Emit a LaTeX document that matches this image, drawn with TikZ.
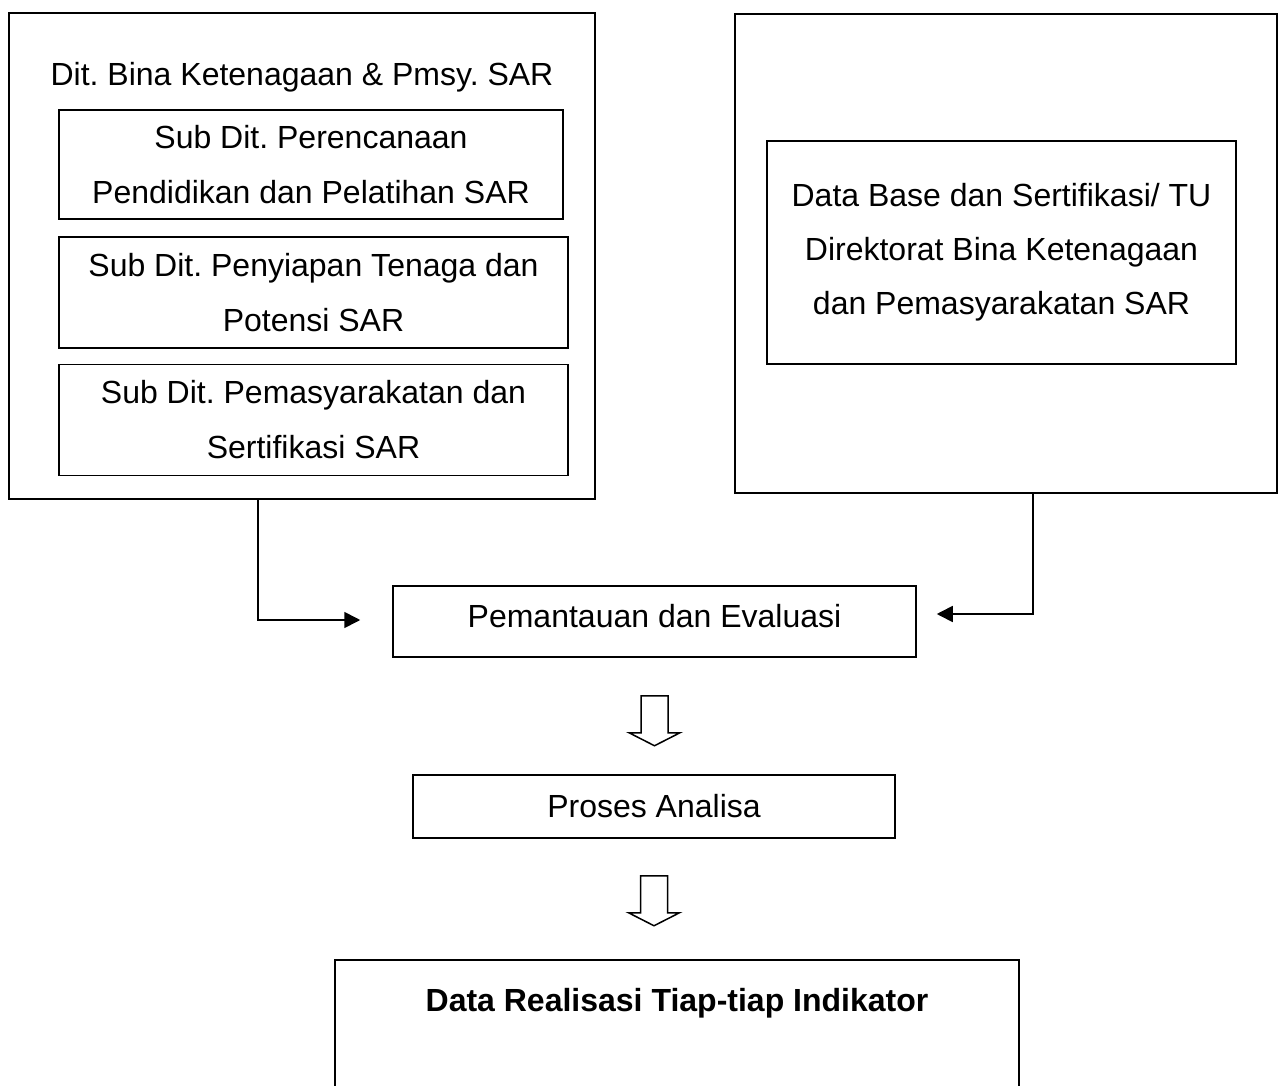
\documentclass[tikz,border=0pt]{standalone}
\usepackage{fontspec}
\setmainfont{Liberation Sans}
\usetikzlibrary{arrows.meta,calc}
\frenchspacing
\tikzset{
  box/.style={draw, line width=1.5pt, rectangle, inner sep=0pt, align=center,
    font=\fontsize{32}{55}\selectfont\frenchspacing},
  txt/.style={inner sep=0pt, align=center, font=\fontsize{32}{55}\selectfont\frenchspacing},
  conn/.style={line width=1.6pt, -{Triangle[length=16pt,width=16pt]}},
  hollowdown/.pic={
    \draw[line width=1.5pt, line join=miter]
      (-13.5,0) -- (-13.5,37) -- (-25.5,37) -- (0,50) -- (25.5,37) -- (13.5,37) -- (13.5,0) -- cycle;
  }
}
\begin{document}
\begin{tikzpicture}[x=1pt,y=-1pt]
\useasboundingbox[fill=white] (0,0) rectangle (1283,1086);
\clip (0,0) rectangle (1283,1086);

% left group
\node[box, minimum width=586pt, minimum height=486pt] (outerL) at (302,256) {};
\node[txt] (title) at (302,77) {Dit. Bina Ketenagaan \& Pmsy. SAR};
\node[box, minimum width=504pt, minimum height=109pt] (sub1) at (311,164.5)
  {Sub Dit. Perencanaan\\Pendidikan dan Pelatihan SAR};
\node[box, minimum width=509pt, minimum height=111pt] (sub2) at (313.5,292.5)
  {Sub Dit. Penyiapan Tenaga dan\\Potensi SAR};
\node[box, minimum width=509pt, minimum height=111pt] (sub3) at (313.5,420)
  {Sub Dit. Pemasyarakatan dan\\Sertifikasi SAR};

% right group
\node[box, minimum width=542pt, minimum height=479pt] (outerR) at (1006,253.5) {};
\node[box, minimum width=469pt, minimum height=223pt, font=\fontsize{32}{54}\selectfont\frenchspacing] (dbox) at (1001.5,252.5)
  {Data Base dan Sertifikasi/ TU\\Direktorat Bina Ketenagaan\\dan Pemasyarakatan SAR};

% process
\node[box, minimum width=523pt, minimum height=71pt] (pem) at (654.5,621.5) {\raisebox{12pt}{Pemantauan dan Evaluasi}};
\node[box, minimum width=482pt, minimum height=63pt] (proses) at (654,806.5) {Proses Analisa};
\node[box, anchor=north, minimum width=684pt, minimum height=200pt] (databox) at (677,959) {};
\node[txt] (data) at ($(databox.north)+(0,44)$) {\textbf{Data Realisasi Tiap-tiap Indikator}};

% connectors
\coordinate (lend) at ($(pem.west)+(-32,-1.5)$);
\coordinate (rend) at ($(pem.east)+(20,-7.5)$);
\draw[conn] ($(outerL.south west)+(250,0)$) |- (lend);
\draw[conn] ($(outerR.south west)+(299,0)$) |- (rend);

% hollow arrows
\pic at ($(pem.south)+(0,38)$) {hollowdown};
\pic at ($(proses.south)+(0,37)$) {hollowdown};
\end{tikzpicture}
\end{document}
